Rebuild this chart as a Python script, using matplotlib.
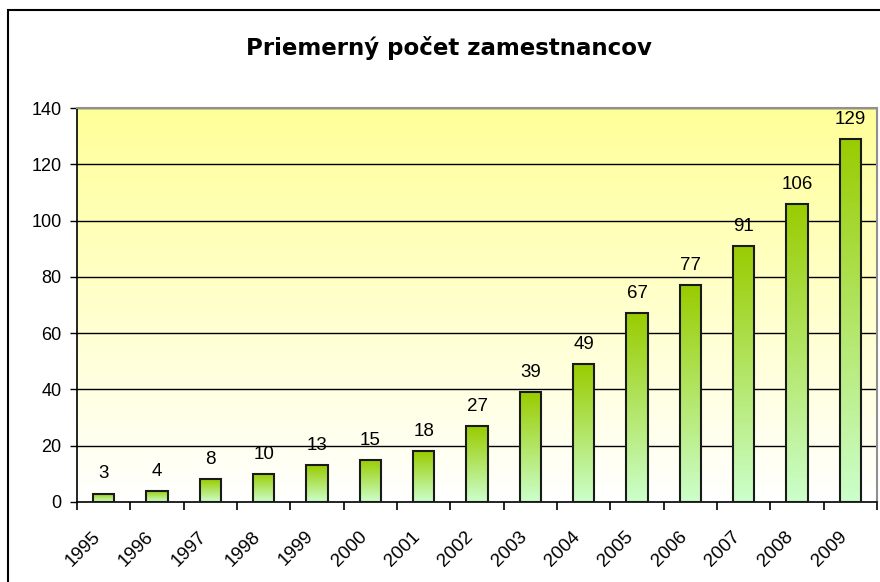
import numpy as np
import matplotlib
matplotlib.use("Agg")
import matplotlib.pyplot as plt
from matplotlib.colors import LinearSegmentedColormap
from matplotlib.patches import Rectangle
import matplotlib.transforms as mtransforms

years = ["1995", "1996", "1997", "1998", "1999", "2000", "2001", "2002",
         "2003", "2004", "2005", "2006", "2007", "2008", "2009"]
values = [3, 4, 8, 10, 13, 15, 18, 27, 39, 49, 67, 77, 91, 106, 129]
title = "Priemerný počet zamestnancov"
yticks = [0, 20, 40, 60, 80, 100, 120, 140]

fig = plt.figure(figsize=(8.8, 5.82), dpi=100)
fig.patch.set_facecolor("white")
ax = fig.add_axes([77/880, 1-502/582, 800/880, 394/582])

x = np.arange(len(years))
ax.set_xlim(-0.5, len(years)-0.5)
ax.set_ylim(0, 140)

# background gradient
bg = LinearSegmentedColormap.from_list("bg", ["#FFFFFF", "#FFFF99"])
grad = np.linspace(0, 1, 256).reshape(-1, 1)
ax.imshow(grad, cmap=bg, origin="lower", aspect="auto",
          extent=[-0.5, len(years)-0.5, 0, 140], zorder=0)

for yv in yticks[1:]:
    ax.axhline(yv, color="black", lw=1.0, zorder=1)

bars = ax.bar(x, values, width=0.4, facecolor="none", edgecolor="#1a1a1a",
              linewidth=1.5, zorder=3)
barcm = LinearSegmentedColormap.from_list("bar", ["#CCFFCC", "#99CC00"])
for b in bars:
    x0, w, h = b.get_x(), b.get_width(), b.get_height()
    ax.imshow(grad, cmap=barcm, origin="lower", aspect="auto",
              extent=[x0, x0 + w, 0, h], zorder=2)
for xi, v in zip(x, values):
    ax.annotate(str(v), (xi, v), xytext=(0, 8), textcoords="offset points",
                ha="center", va="bottom", fontsize=13.5,
                family="Liberation Sans", color="black")

ax.set_xlim(-0.5, len(years)-0.5)
ax.set_ylim(0, 140)

ax.set_yticks(yticks)
ax.set_yticklabels([str(t) for t in yticks], fontsize=13, family="Liberation Sans")
ax.tick_params(axis="y", length=5, width=1, color="black", pad=6)

ax.set_xticks(x)
ax.set_xticklabels(years, fontsize=13.5, family="Liberation Sans",
                   rotation=45, ha="right", va="center", rotation_mode="anchor")
ax.tick_params(axis="x", which="major", length=0, pad=23)
ax.set_xticks(np.arange(-0.5, len(years)), minor=True)
ax.tick_params(axis="x", which="minor", length=6, width=1.2, color="black")
off = mtransforms.ScaledTranslation(-6/100, 0, fig.dpi_scale_trans)
for lab in ax.get_xticklabels():
    lab.set_transform(lab.get_transform() + off)

for s in ["left", "bottom"]:
    ax.spines[s].set_color("black")
    ax.spines[s].set_linewidth(1.2)
for s in ["top", "right"]:
    ax.spines[s].set_color("#909090")
    ax.spines[s].set_linewidth(1.5)

fig.text(449/880, 1-48/582, title, ha="center", va="center",
         fontsize=16.5, fontweight="bold", family="DejaVu Sans")

fig.patches.append(Rectangle((8/880, -0.1), 1.0, 1-10/582+0.1,
                             transform=fig.transFigure, fill=False,
                             edgecolor="black", linewidth=1.5))

fig.savefig("out.png", dpi=100)
